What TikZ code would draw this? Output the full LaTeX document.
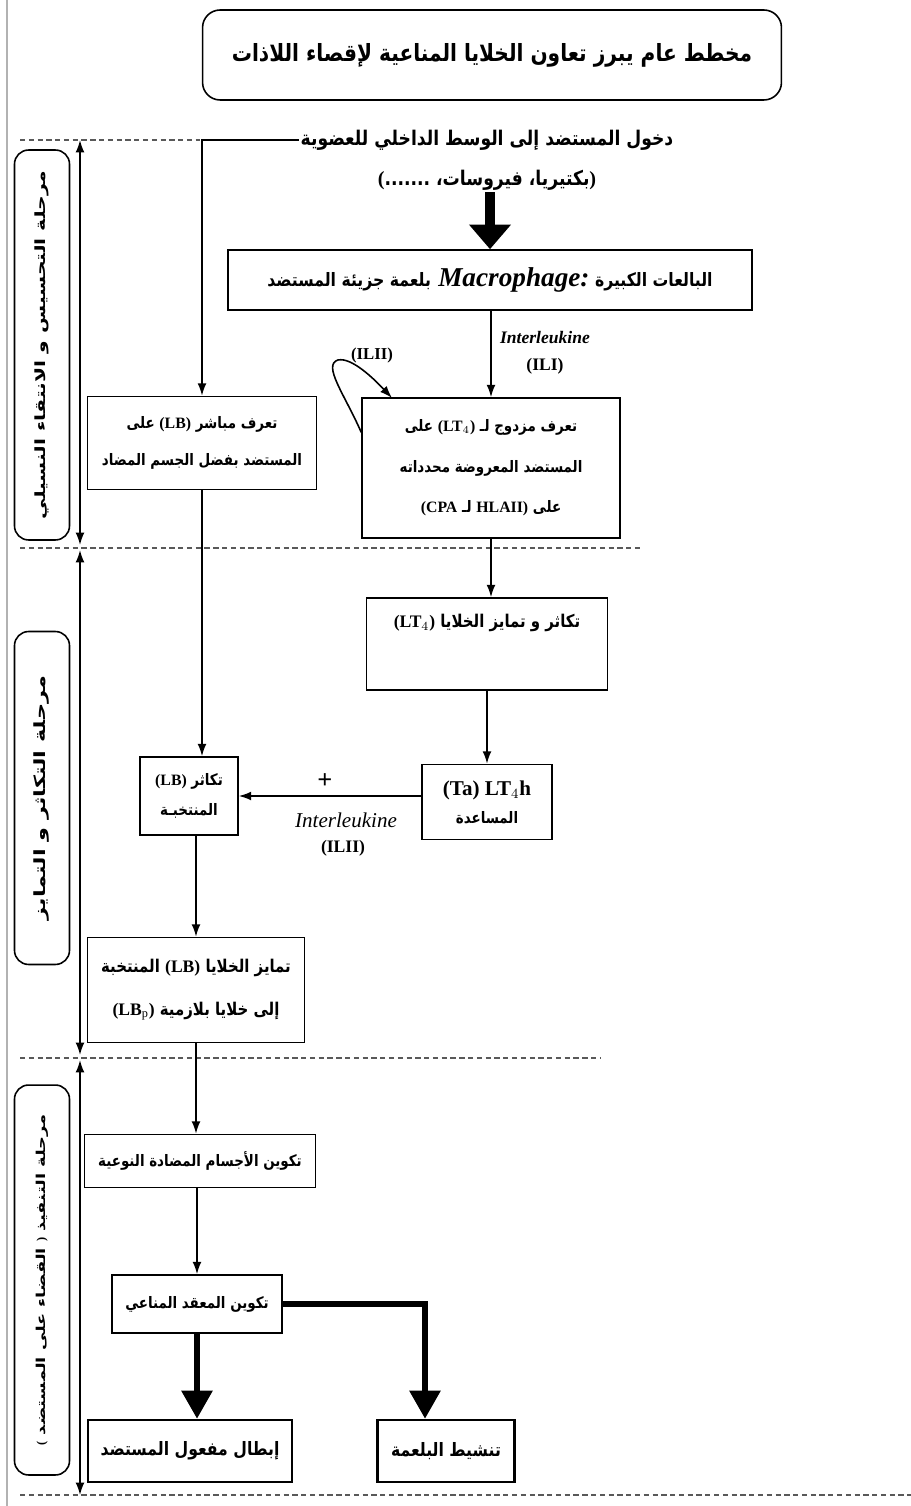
\documentclass[tikz,border=0pt]{standalone}
\usepackage{fontspec}
\usepackage{tikz}
\usetikzlibrary{positioning,arrows.meta}
\setmainfont{Liberation Serif}
\newfontfamily\arabicfont[Script=Arabic,FakeStretch=0.85]{DejaVu Sans}
\newfontfamily\arabicwide[Script=Arabic,FakeStretch=1.45]{DejaVu Sans}
\TeXXeTstate=1
\newcommand{\artxt}[1]{{\arabicfont\bfseries\beginR #1\endR}}
\newcommand{\arwide}[1]{{\arabicwide\bfseries\beginR #1\endR}}
\newcommand{\lat}[1]{{\rmfamily\bfseries #1}}

\begin{document}
\begin{tikzpicture}[
    x=0.02cm,y=-0.02cm,
    box/.style={draw,line width=0.9pt,align=center,inner sep=2pt,font=\fontsize{9}{17}\selectfont},
    phasebox/.style={draw,line width=0.9pt,rounded corners=8pt,rotate=90,minimum height=1.1cm},
    arr/.style={-{Latex[length=7pt,width=5pt]},line width=0.9pt},
    bigarr/.style={-{Triangle[length=16pt,width=17pt]},line width=3.5pt},
    sep/.style={densely dashed,line width=0.8pt,gray!70!black},
    span/.style={{Latex[length=7pt,width=5pt]}-{Latex[length=7pt,width=5pt]},line width=0.9pt}
]
\useasboundingbox (0,0) rectangle (911,1506);
\draw[gray!60,line width=0.6pt] (7,0) -- (7,1506);

% title
\node[draw,line width=0.9pt,rounded corners=10pt,minimum width=11.58cm,minimum height=1.8cm,
      font=\fontsize{13.5}{15}\selectfont] (title) at (492,55)
    {\artxt{مخطط عام يبرز تعاون الخلايا المناعية لإقصاء اللاذات}};

% entry of the antigen
\node[font=\fontsize{11.5}{13}\selectfont,inner sep=1pt] (intro) at (487,140)
    {\artxt{دخول المستضد إلى الوسط الداخلي للعضوية}};
\node[font=\fontsize{11.5}{13}\selectfont,inner sep=1pt] (intro2) at (487,180)
    {\artxt{\lat{)}بكتيريا، فيروسات، .......\lat{(}}};

\node[box,minimum width=10.48cm,minimum height=1.2cm,font=\fontsize{10.5}{12}\selectfont] (mac) at (490,280)
    {\artxt{البالعات الكبيرة \lat{\fontsize{15.5}{16}\selectfont\itshape Macrophage:} بلعمة جزيئة المستضد}};

\node[box,minimum width=5.16cm,minimum height=2.8cm,font=\fontsize{9}{23}\selectfont] (lt4) at (491,468)
    {\artxt{تعرف مزدوج لـ \beginL\lat{(LT$_4$)}\endL{} على}\\
     \artxt{المستضد المعروضة محدداته}\\
     \artxt{على \beginL\lat{(CPA} لـ \lat{HLAII)}\endL}};

\node[box,minimum width=4.58cm,minimum height=1.86cm,font=\fontsize{9}{21.5}\selectfont] (lb1) at (202,443)
    {\artxt{تعرف مباشر \lat{(LB)} على}\\
     \artxt{المستضد بفضل الجسم المضاد}};

\node[box,minimum width=4.82cm,minimum height=1.84cm,font=\fontsize{10}{20}\selectfont] (lt4p) at (487,644)
    {\artxt{تكاثر و تمايز الخلايا \beginL\lat{(LT$_4$)}\endL}\\ \strut};

\node[box,minimum width=2.6cm,minimum height=1.5cm,font=\fontsize{9}{16}\selectfont] (lt4h) at (487,802)
    {\lat{\large (Ta) LT$_4$h}\\ \artxt{المساعدة}};

\node[box,minimum width=1.96cm,minimum height=1.56cm,font=\fontsize{9}{17}\selectfont] (lbp) at (189,796)
    {\artxt{تكاثر \lat{(LB)}}\\ \artxt{المنتخبـة}};

\node[box,minimum width=4.34cm,minimum height=2.1cm,font=\fontsize{10}{24}\selectfont] (lbd) at (196,990)
    {\artxt{تمايز الخلايا \lat{(LB)} المنتخبة}\\
     \artxt{إلى خلايا بلازمية \beginL\lat{(LB$_\mathrm{p}$)}\endL}};

\node[box,minimum width=4.62cm,minimum height=1.06cm] (ab) at (200,1161)
    {\artxt{تكوين الأجسام المضادة النوعية}};

\node[box,minimum width=3.4cm,minimum height=1.16cm] (cplx) at (197,1304)
    {\artxt{تكوين المعقد المناعي}};

\node[box,line width=1.4pt,minimum width=4.08cm,minimum height=1.24cm,font=\fontsize{10.5}{12}\selectfont] (neut) at (190,1451)
    {\artxt{إبطال مفعول المستضد}};

\node[box,line width=1.4pt,minimum width=2.74cm,minimum height=1.24cm,font=\fontsize{10.5}{12}\selectfont] (phago) at (446,1451)
    {\artxt{تنشيط البلعمة}};

% phases
\node[phasebox,minimum width=7.8cm,font=\fontsize{8}{10}\selectfont] (ph1) at (42,345)
    {\arwide{مرحلة التحسيس و الانتقاء النسيلي}};
\node[phasebox,minimum width=6.66cm,font=\fontsize{8.8}{10}\selectfont] (ph2) at (42,798)
    {\arwide{مرحلة التكاثر و التمايز}};
\node[phasebox,minimum width=7.8cm,font=\fontsize{7}{9}\selectfont] (ph3) at (42,1280)
    {\arwide{مرحلة التنفيذ \lat{)} القضاء على المستضد \lat{(}}};

\draw[span] (80,140) -- (80,545);
\draw[span] (80,550) -- (80,1055);
\draw[span] (80,1060) -- (80,1495);

\draw[sep] (20,140) -- (200,140);
\draw[sep] (20,548) -- (640,548);
\draw[sep] (20,1058) -- (600,1058);
\draw[sep] (20,1495) -- (911,1495);

% connectors
\draw[arr] (intro.west) -| (lb1.north);
\draw[-{Triangle[length=14pt,width=23pt]},line width=5.5pt] (intro2.south -| mac.north) -- (mac.north);
\draw[arr] (mac.south -| lt4.north) -- (lt4.north);
\node[font=\fontsize{10}{11}\selectfont] (il1) at (545,338) {\lat{\itshape Interleukine}};
\node[font=\fontsize{10}{11}\selectfont] (il1b) at (545,366) {\lat{(ILI)}};
\draw[arr] ([yshift=-20pt]lt4.north west) .. controls (345,395) and (322,365) .. (338,360)
    .. controls (352,357) and (375,380) .. (392,398);
\node[font=\fontsize{9.5}{10}\selectfont] (il2a) at (372,355) {\lat{(ILII)}};
\draw[arr] (lb1.south) -- (lb1.south |- lbp.north);
\draw[arr] (lt4.south) -- (lt4.south |- lt4p.north);
\draw[arr] (lt4p.south) -- (lt4h.north);
\draw[arr] (lt4h.west |- lbp.east) -- (lbp.east);
\node[font=\fontsize{15}{15}\selectfont] (plus) at (325,781) {\lat{+}};
\node[font=\fontsize{12}{12}\selectfont] (il2t) at (346,820) {\rmfamily\itshape Interleukine};
\node[font=\fontsize{10}{11}\selectfont] (il2b) at (343,848) {\lat{(ILII)}};
\draw[arr] (lbp.south -| lbd.north) -- (lbd.north);
\draw[arr] (lbd.south) -- (lbd.south |- ab.north);
\draw[arr] (ab.south -| cplx.north) -- (cplx.north);
\draw[bigarr] (cplx.south) -- (cplx.south |- neut.north);
\draw[bigarr] (cplx.east) -| (phago.north -| 425,0);

\end{tikzpicture}
\end{document}
